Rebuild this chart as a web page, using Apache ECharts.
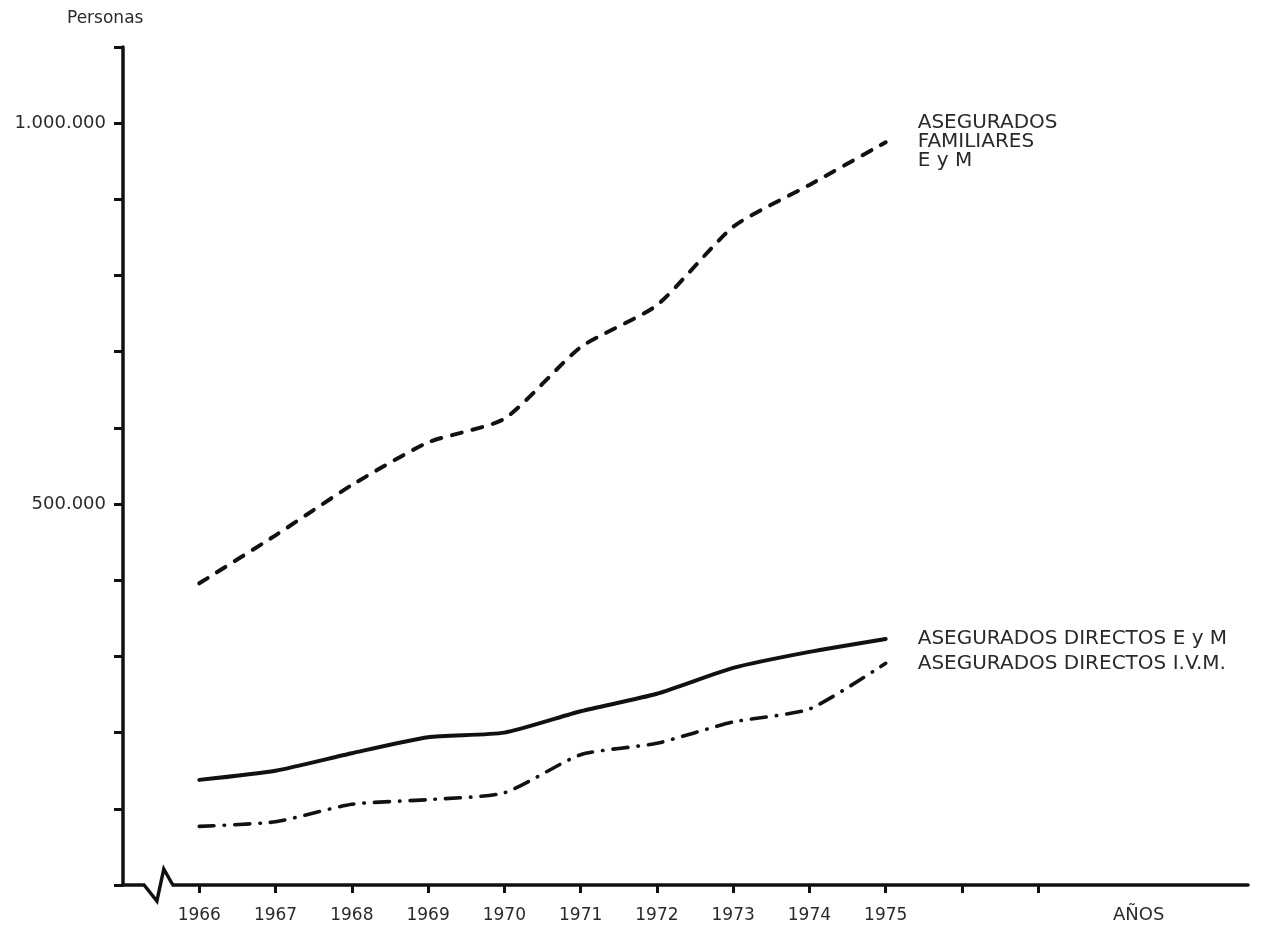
<!DOCTYPE html>
<html><head><meta charset="utf-8">
<script src="https://cdn.jsdelivr.net/npm/echarts@6/dist/echarts.min.js"></script>
<style>html,body{margin:0;padding:0;background:#fff}#c{width:1268px;height:930px}</style>
</head><body><div id="c"></div>
<script>
const years = [1966, 1967, 1968, 1969, 1970, 1971, 1972, 1973, 1974, 1975];
const familiares = [396000, 459000, 525000, 581000, 612000, 706000, 761000, 864000, 919000, 975000];
const directosEM = [138000, 150000, 173000, 194000, 200000, 228000, 251000, 285000, 306000, 323000];
const directosIVM = [77000, 83000, 106000, 112000, 121000, 171000, 186000, 214000, 231000, 291000];
const xTickValues = [1966, 1967, 1968, 1969, 1970, 1971, 1972, 1973, 1974, 1975, 1976, 1977];
const xLabelValues = [1966, 1967, 1968, 1969, 1970, 1971, 1972, 1973, 1974, 1975];
const yTickValues = [0, 100000, 200000, 300000, 400000, 500000, 600000, 700000, 800000, 900000, 1000000, 1100000];
const yLabelValues = [500000, 1000000];
const seriesNames = ['ASEGURADOS\nFAMILIARES\nE y M', 'ASEGURADOS DIRECTOS E y M', 'ASEGURADOS DIRECTOS I.V.M.'];
const yAxisTitle = 'Personas';
const xAxisTitle = 'AÑOS';

const FONT = 'DejaVu Sans';
const INK = '#111';
const TXT = '#2a2a2a';
const pairs = vals => years.map((y, i) => [y, vals[i]]);
const fmt = v => String(v).replace(/\B(?=(\d{3})+(?!\d))/g, '.');

const endLabel = {
  show: true, formatter: '{a}', distance: 32, color: TXT,
  fontFamily: FONT, fontSize: 20, lineHeight: 19, align: 'left'
};

const chart = echarts.init(document.getElementById('c'), null, {renderer: 'canvas'});
chart.setOption({
  animation: false,
  backgroundColor: '#fff',
  grid: {left: 123, right: 20, top: 47, bottom: 45, containLabel: false},
  xAxis: {
    type: 'value', min: 1965, max: 1979.75,
    axisLine: {show: true, lineStyle: {color: INK, width: 3.5}},
    axisTick: {show: true, customValues: xTickValues, length: 8, lineStyle: {color: INK, width: 3}},
    axisLabel: {show: true, customValues: xLabelValues, margin: 22, color: TXT, fontFamily: FONT, fontSize: 17, formatter: v => String(v)},
    splitLine: {show: false}
  },
  yAxis: {
    type: 'value', min: 0, max: 1100000,
    axisLine: {show: true, lineStyle: {color: INK, width: 3.5}},
    axisTick: {show: true, customValues: yTickValues, length: 9, lineStyle: {color: INK, width: 3}},
    axisLabel: {show: true, customValues: yLabelValues, margin: 17, color: TXT, fontFamily: FONT, fontSize: 18, formatter: v => fmt(v)},
    splitLine: {show: false}
  },
  series: [
    {
      name: seriesNames[0], type: 'line', data: pairs(familiares), smooth: 0.2,
      symbol: 'none', clip: false,
      lineStyle: {color: INK, width: 4, type: [10, 11], cap: 'round'},
      endLabel: endLabel
    },
    {
      name: seriesNames[1], type: 'line', data: pairs(directosEM), smooth: 0.2,
      symbol: 'none', clip: false,
      lineStyle: {color: INK, width: 4, type: 'solid', cap: 'round'},
      endLabel: endLabel
    },
    {
      name: seriesNames[2], type: 'line', data: pairs(directosIVM), smooth: 0.2,
      symbol: 'none', clip: false,
      lineStyle: {color: INK, width: 3.6, type: [15, 10, 0.5, 10], cap: 'round'},
      endLabel: endLabel
    }
  ]
});

// axis break zig-zag and axis titles
const p0 = chart.convertToPixel({gridIndex: 0}, [1965.29, 0]);
const p1 = chart.convertToPixel({gridIndex: 0}, [1965.64, 0]);
const yTop = chart.convertToPixel({gridIndex: 0}, [1965, 1100000]);
const zx = p0[0], zy = p0[1], zw = p1[0] - p0[0];
chart.setOption({
  graphic: [
    {type: 'rect', shape: {x: zx, y: zy - 4, width: zw, height: 8}, style: {fill: '#fff'}, z: 100},
    {type: 'polyline', shape: {points: [[zx - 1, zy], [zx + zw * 0.44, zy + 16], [zx + zw * 0.7, zy - 16], [zx + zw + 1, zy]]},
      style: {stroke: INK, lineWidth: 3.5, fill: null, lineJoin: 'miter'}, z: 101},
    {type: 'text', left: yTop[0] - 56, top: 10, style: {text: yAxisTitle, fill: TXT, font: '17px "DejaVu Sans"'}, z: 101},
    {type: 'text', left: 1113, top: 906, style: {text: xAxisTitle, fill: TXT, font: '18px "DejaVu Sans"'}, z: 101}
  ]
});
</script></body></html>
